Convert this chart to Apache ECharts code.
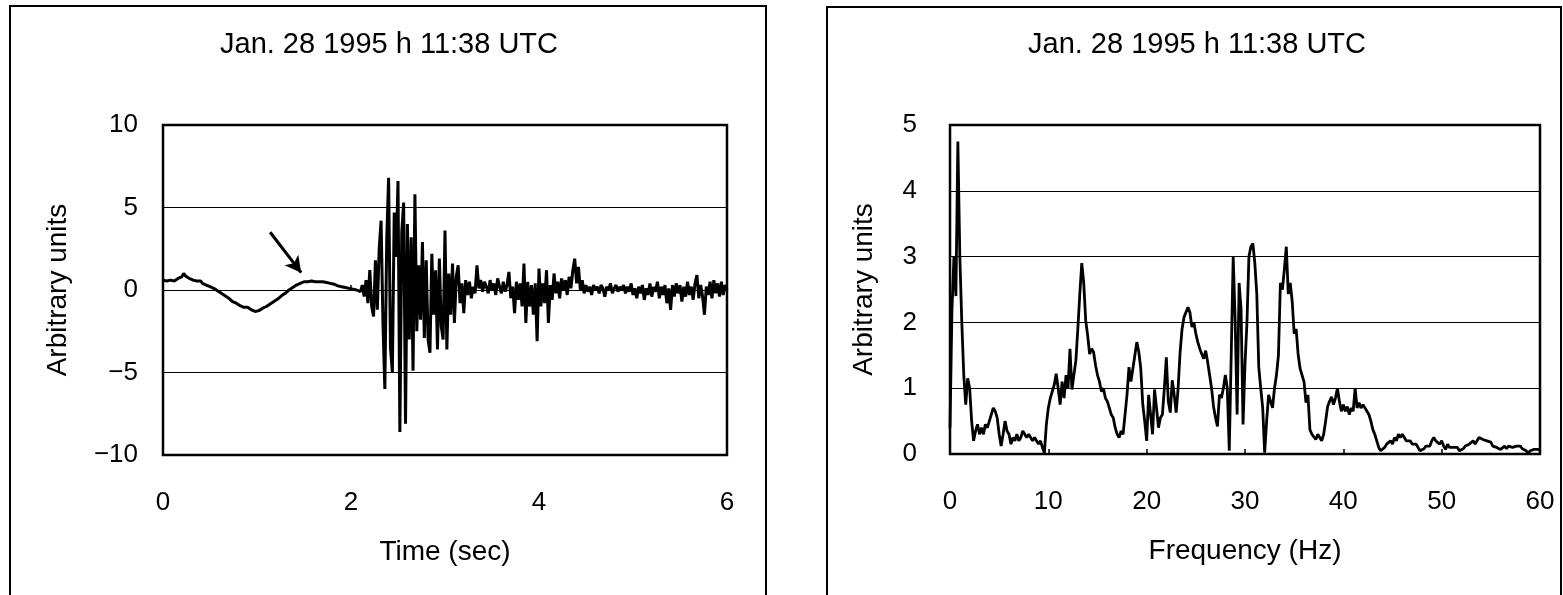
<!DOCTYPE html>
<html>
<head>
<meta charset="utf-8">
<script src="https://cdn.jsdelivr.net/npm/echarts@6.0.0/dist/echarts.min.js"></script>
<style>
html,body{margin:0;padding:0;background:#fff;}
#chart{width:1563px;height:595px;}
</style>
</head>
<body>
<div id="chart"></div>
<script>
// ---------- DATA ----------
const chartTitle = 'Jan. 28 1995 h 11:38 UTC';
const timeStepSec = 0.02;           // sampling step of the seismogram (s)
const amplitude = [
  0.6,0.7,0.55,0.65,0.6,0.7,0.55,0.6,0.7,0.65,
  0.8,1.0,0.85,0.95,0.7,0.75,0.6,0.65,0.55,0.5,
  0.55,0.4,0.35,0.3,0.3,0.2,0.15,0.1,0.0,-0.05,
  -0.1,-0.2,-0.3,-0.35,-0.45,-0.5,-0.6,-0.7,-0.75,-0.8,
  -0.9,-0.95,-1.0,-1.05,-1.1,-1.05,-1.15,-1.2,-1.1,-1.3,
  -1.4,-1.25,-1.2,-1.1,-1.05,-1.0,-0.95,-0.85,-0.8,-0.7,
  -0.6,-0.55,-0.45,-0.35,-0.3,-0.2,-0.1,0.0,0.05,0.15,
  0.2,0.3,0.35,0.4,0.45,0.5,0.55,0.5,0.6,0.55,
  0.6,0.5,0.55,0.5,0.45,0.5,0.4,0.45,0.35,0.4,
  0.3,0.35,0.3,0.25,0.3,0.2,0.25,0.15,0.2,0.1,
  0.15,0.05,0.1,0.0,0.05,-0.1,0.3,-0.4,0.6,-0.8,
  1.2,-1.0,-1.6,1.8,-1.2,2.5,4.2,-2.0,-6.0,3.0,
  6.8,-3.5,-5.0,4.7,2.0,6.6,-8.6,3.5,5.3,-8.1,
  4.0,-3.0,3.2,-4.9,5.8,-2.5,1.5,-1.8,2.9,-2.9,
  1.8,-3.0,-3.8,2.2,-1.5,1.2,-3.6,1.9,-2.2,-3.0,
  3.6,-3.6,1.0,-1.5,1.6,-2.0,0.8,1.5,-0.8,0.4,
  -1.4,0.6,-0.3,0.5,-0.5,0.2,-0.2,1.5,0.1,0.6,
  -0.1,0.5,0.2,-0.2,0.6,0.0,0.4,-0.3,0.7,0.2,
  -0.2,0.5,-0.1,0.3,1.1,-0.5,0.2,-1.4,0.5,-0.6,
  0.4,-1.0,1.6,-2.0,0.5,-1.0,0.3,-1.5,0.4,-3.1,
  1.3,-1.0,0.4,-0.8,1.2,-2.0,0.3,-0.6,1.0,-0.2,
  0.5,-0.5,0.7,0.0,0.6,-0.3,0.8,0.1,1.2,1.9,
  0.4,1.4,0.0,0.6,-0.2,0.3,-0.1,0.2,-0.3,0.3,
  0.0,0.2,-0.2,0.3,0.1,-0.4,0.2,0.0,0.4,-0.2,
  0.1,0.3,-0.1,0.2,0.0,0.3,-0.2,0.2,-0.1,0.4,
  -0.3,0.1,-0.5,0.2,-0.2,0.3,-0.6,0.1,-0.3,0.4,
  -0.4,0.2,-0.1,0.5,-0.5,0.2,-0.3,0.3,-0.8,0.1,
  -1.2,0.3,-0.4,0.4,-0.2,0.3,-0.7,0.2,-0.4,0.5,
  -0.3,0.2,-0.6,0.4,0.9,-0.5,0.3,-0.4,-1.5,0.2,
  -0.3,0.5,-0.5,0.6,-0.2,0.4,-0.4,0.5,-0.3,0.3,
  0.0
];
const freqStepHz = 0.2;             // frequency resolution of the spectrum (Hz)
const spectrum = [
  0.4,2.2,3.0,2.4,4.75,3.0,2.0,1.2,0.75,1.15,
  1.0,0.5,0.2,0.35,0.45,0.3,0.4,0.3,0.45,0.4,
  0.5,0.6,0.7,0.65,0.55,0.3,0.12,0.3,0.5,0.35,
  0.3,0.15,0.25,0.2,0.3,0.2,0.25,0.35,0.3,0.25,
  0.3,0.25,0.2,0.25,0.2,0.15,0.2,0.1,0.02,0.45,
  0.7,0.85,0.95,1.05,1.22,1.0,0.75,1.1,0.85,1.2,
  1.0,1.6,0.98,1.2,1.42,1.9,2.43,2.9,2.6,2.03,
  1.8,1.52,1.6,1.55,1.35,1.2,1.1,0.95,1.0,0.85,
  0.8,0.7,0.6,0.55,0.4,0.3,0.25,0.35,0.3,0.6,
  0.9,1.32,1.1,1.3,1.5,1.7,1.55,1.3,0.76,0.5,
  0.2,0.9,0.6,0.3,0.98,0.7,0.4,0.55,0.6,1.0,
  1.47,0.8,0.63,1.12,0.9,0.63,1.0,1.55,1.9,2.08,
  2.1,2.23,2.15,1.93,2.0,1.83,1.7,1.6,1.52,1.45,
  1.57,1.4,1.2,1.0,0.72,0.55,0.42,0.9,0.85,1.0,
  1.2,1.0,0.05,1.52,3.0,2.03,0.6,2.6,2.2,0.45,
  1.37,2.0,3.0,3.15,3.2,2.9,2.43,1.32,1.0,0.7,
  0.02,0.5,0.9,0.8,0.7,1.0,1.2,1.5,2.6,2.5,
  2.8,3.15,2.43,2.6,2.32,1.83,1.9,1.52,1.3,1.2,
  1.1,0.78,0.9,0.37,0.3,0.27,0.22,0.3,0.25,0.2,
  0.3,0.5,0.72,0.8,0.87,0.75,0.85,1.0,0.8,0.65,
  0.75,0.65,0.72,0.6,0.7,0.65,1.0,0.7,0.78,0.7,
  0.75,0.72,0.65,0.6,0.5,0.37,0.3,0.2,0.1,0.05,
  0.05,0.1,0.15,0.12,0.2,0.15,0.25,0.2,0.3,0.25,
  0.3,0.25,0.2,0.22,0.2,0.15,0.18,0.15,0.1,0.05,
  0.02,0.08,0.12,0.15,0.12,0.2,0.25,0.2,0.22,0.15,
  0.2,0.12,0.07,0.15,0.1,0.12,0.1,0.08,0.1,0.05,
  0.05,0.08,0.12,0.1,0.15,0.12,0.2,0.15,0.2,0.25,
  0.25,0.22,0.25,0.2,0.22,0.18,0.12,0.15,0.1,0.07,
  0.07,0.1,0.12,0.08,0.12,0.1,0.1,0.08,0.12,0.1,
  0.12,0.08,0.1,0.05,0.0,0.05,0.08,0.07,0.05,0.07,
  0.05
];
// arrow annotation in data units (time s, amplitude)
const arrowFrom = [1.14, 3.5];
const arrowTo = [1.47, 1.05];

// ---------- CHART ----------
const FONT = '"Liberation Sans", Arial, Helvetica, sans-serif';
const seis = amplitude.map((v, i) => [+(i * timeStepSec).toFixed(2), v]);
const spec = spectrum.map((v, i) => [+(i * freqStepHz).toFixed(1), v]);
const minusFmt = v => String(v).replace('-', '\u2212');

const chart = echarts.init(document.getElementById('chart'), null, {renderer: 'canvas'});
const axisLabel = (margin) => ({color: '#000', fontSize: 26, fontFamily: FONT, margin: margin, formatter: minusFmt});
const nameStyle = {color: '#000', fontSize: 28, fontFamily: FONT};

chart.setOption({
  animation: false,
  backgroundColor: '#fff',
  title: [
    {text: chartTitle, left: 220, top: 30, padding: 0,
     textStyle: {fontSize: 29, fontWeight: 'normal', color: '#000', fontFamily: FONT}},
    {text: chartTitle, left: 1028, top: 30, padding: 0,
     textStyle: {fontSize: 29, fontWeight: 'normal', color: '#000', fontFamily: FONT}}
  ],
  graphic: [
    {type: 'rect', shape: {x: 10, y: 6, width: 756, height: 620}, style: {fill: 'none', stroke: '#000', lineWidth: 2}, z: -1},
    {type: 'rect', shape: {x: 827, y: 7, width: 734, height: 620}, style: {fill: 'none', stroke: '#000', lineWidth: 2}, z: -1}
  ],
  grid: [
    {left: 163, top: 125, width: 564, height: 330, show: true, borderColor: '#000', borderWidth: 2.5, backgroundColor: 'transparent'},
    {left: 950, top: 125, width: 590, height: 329, show: true, borderColor: '#000', borderWidth: 2.5, backgroundColor: 'transparent'}
  ],
  xAxis: [
    {type: 'value', gridIndex: 0, min: 0, max: 6, interval: 2,
     name: 'Time (sec)', nameLocation: 'middle', nameGap: 83, nameTextStyle: nameStyle,
     axisLine: {show: false}, axisTick: {show: true, inside: true, length: 5, lineStyle: {color: '#000', width: 1.5}},
     splitLine: {show: false}, axisLabel: axisLabel(35)},
    {type: 'value', gridIndex: 1, min: 0, max: 60, interval: 10,
     name: 'Frequency (Hz)', nameLocation: 'middle', nameGap: 83, nameTextStyle: nameStyle,
     axisLine: {show: false}, axisTick: {show: true, inside: true, length: 5, lineStyle: {color: '#000', width: 1.5}},
     splitLine: {show: false}, axisLabel: axisLabel(35)}
  ],
  yAxis: [
    {type: 'value', gridIndex: 0, min: -10, max: 10, interval: 5,
     name: 'Arbitrary units', nameLocation: 'middle', nameGap: 91, nameTextStyle: nameStyle,
     axisLine: {show: false}, axisTick: {show: false},
     splitLine: {show: true, lineStyle: {color: '#000', width: 1.2}}, axisLabel: axisLabel(25)},
    {type: 'value', gridIndex: 1, min: 0, max: 5, interval: 1,
     name: 'Arbitrary units', nameLocation: 'middle', nameGap: 72, nameTextStyle: nameStyle,
     axisLine: {show: false}, axisTick: {show: false},
     splitLine: {show: true, lineStyle: {color: '#000', width: 1.2}}, axisLabel: axisLabel(33)}
  ],
  series: [
    {type: 'line', xAxisIndex: 0, yAxisIndex: 0, data: seis, showSymbol: false, sampling: null,
     lineStyle: {color: '#000', width: 3}, silent: true,
     markLine: {silent: true, symbol: ['none', 'arrow'], symbolSize: [13, 16],
       lineStyle: {color: '#000', width: 3, type: 'solid'}, label: {show: false},
       data: [[{coord: arrowFrom}, {coord: arrowTo}]]}},
    {type: 'line', xAxisIndex: 1, yAxisIndex: 1, data: spec, showSymbol: false, sampling: null,
     lineStyle: {color: '#000', width: 2.8}, silent: true}
  ]
});
</script>
</body>
</html>
